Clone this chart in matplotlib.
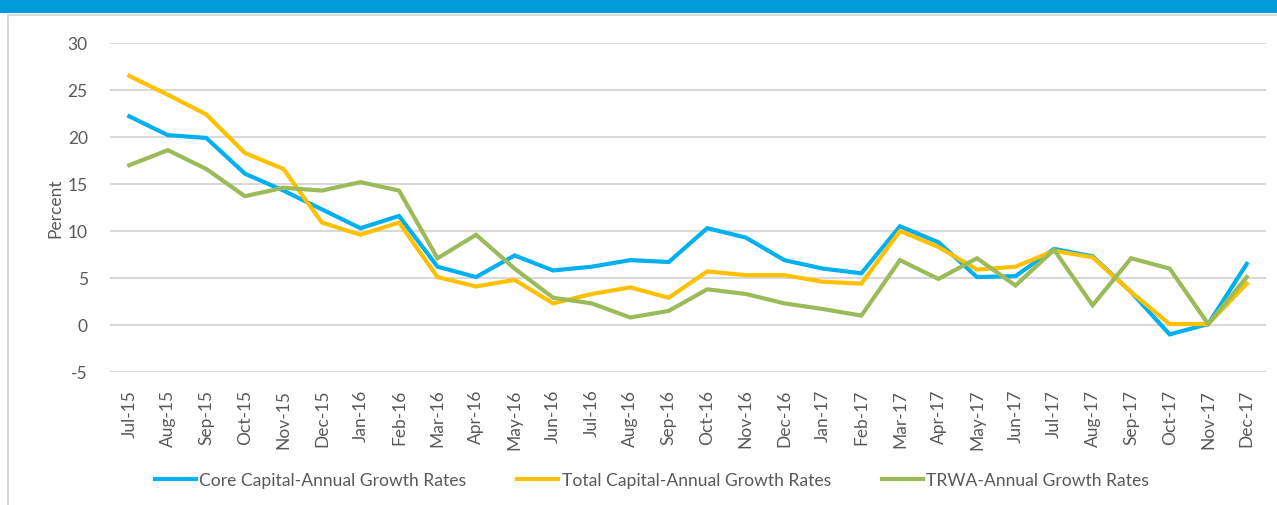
import matplotlib
matplotlib.use("Agg")
import matplotlib.pyplot as plt
from matplotlib.patches import Rectangle
from matplotlib.lines import Line2D

months = ["Jul-15", "Aug-15", "Sep-15", "Oct-15", "Nov-15", "Dec-15",
          "Jan-16", "Feb-16", "Mar-16", "Apr-16", "May-16", "Jun-16",
          "Jul-16", "Aug-16", "Sep-16", "Oct-16", "Nov-16", "Dec-16",
          "Jan-17", "Feb-17", "Mar-17", "Apr-17", "May-17", "Jun-17",
          "Jul-17", "Aug-17", "Sep-17", "Oct-17", "Nov-17", "Dec-17"]

core_capital = [22.2, 20.2, 19.9, 16.1, 14.3, 12.3, 10.3, 11.6, 6.2, 5.1,
                7.4, 5.8, 6.2, 6.9, 6.7, 10.3, 9.3, 6.9, 6.0, 5.5,
                10.5, 8.8, 5.1, 5.2, 8.1, 7.3, 3.5, -1.0, 0.1, 6.5]

total_capital = [26.5, 24.5, 22.4, 18.3, 16.6, 10.9, 9.6, 10.9, 5.1, 4.1,
                 4.8, 2.3, 3.3, 4.0, 2.9, 5.7, 5.3, 5.3, 4.6, 4.4,
                 10.0, 8.3, 5.9, 6.2, 7.9, 7.2, 3.5, 0.1, 0.1, 4.4]

trwa = [17.0, 18.6, 16.6, 13.7, 14.6, 14.3, 15.2, 14.3, 7.1, 9.6,
        6.0, 2.9, 2.3, 0.8, 1.5, 3.8, 3.3, 2.3, 1.7, 1.0,
        6.9, 4.9, 7.1, 4.2, 8.0, 2.1, 7.1, 6.0, 0.1, 5.1]

series_names = ["Core Capital-Annual Growth Rates",
                "Total Capital-Annual Growth Rates",
                "TRWA-Annual Growth Rates"]
y_ticks = [-5, 0, 5, 10, 15, 20, 25, 30]

colors = ["#00B0F0", "#FFC000", "#9BBB59"]
text_color = "#595959"
grid_color = "#D9D9D9"

plt.rcParams['font.family'] = ['Lato', 'DejaVu Sans']

W, H = 1277, 506
fig = plt.figure(figsize=(W / 100, H / 100), dpi=100)

# header band and frame
fig.patches.append(Rectangle((0, 1 - 14 / H), 1, 14 / H, transform=fig.transFigure,
                             facecolor="#009ADA", edgecolor="none", zorder=0))
fig.lines.append(Line2D([8 / W, 1], [1 - 16 / H, 1 - 16 / H], transform=fig.transFigure,
                        color=grid_color, lw=1.5))
fig.lines.append(Line2D([8 / W, 8 / W], [0, 1 - 16 / H], transform=fig.transFigure,
                        color=grid_color, lw=1.5))

left, right = 110 / W, 1266 / W
top, bottom = 1 - 44 / H, 1 - 373 / H
ax = fig.add_axes([left, bottom, right - left, top - bottom])

x = list(range(len(months)))
for vals, name, c in zip([core_capital, total_capital, trwa], series_names, colors):
    ax.plot(x, vals, color=c, lw=3.0, label=name, solid_joinstyle="miter", zorder=3)

ax.set_xlim(-0.5, len(months) - 0.5)
ax.set_ylim(-5, 30)
ax.set_yticks(y_ticks)
ax.set_yticklabels([str(v) for v in y_ticks])
ax.set_xticks(x)
ax.set_xticklabels(months, rotation=90)
ax.tick_params(axis="both", length=0, colors=text_color, labelsize=12.5)
ax.tick_params(axis="y", pad=16)
ax.tick_params(axis="x", pad=12)
for s in ax.spines.values():
    s.set_visible(False)
ax.grid(axis="y", color=grid_color, lw=1.5)
ax.set_axisbelow(True)
ax.set_ylabel("Percent", color=text_color, fontsize=12.5)
ax.yaxis.set_label_coords((63 - 110) / 1156, 0.5)

leg = fig.legend(loc="center", bbox_to_anchor=(652 / W, 1 - 481 / H), ncol=3,
                 frameon=False, fontsize=12.6, handlelength=2.35, handletextpad=0.2,
                 columnspacing=2.9)
for t in leg.get_texts():
    t.set_color(text_color)

fig.savefig("out.png", dpi=100)
